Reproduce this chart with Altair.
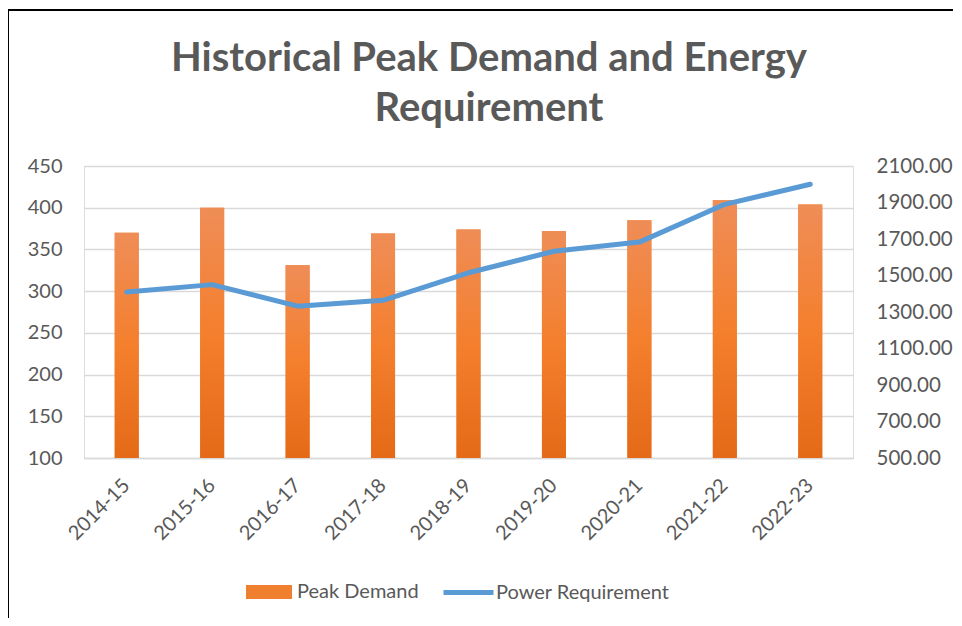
import altair as alt
import pandas as pd

years = ["2014-15", "2015-16", "2016-17", "2017-18", "2018-19", "2019-20", "2020-21", "2021-22", "2022-23"]
peak_demand = [370, 400, 331, 369, 374, 372, 385, 409, 404]
power_req = [1410, 1450, 1332, 1364, 1515, 1633, 1683, 1890, 2000]
left_ticks = [100, 150, 200, 250, 300, 350, 400, 450]
right_ticks = [500, 700, 900, 1100, 1300, 1500, 1700, 1900, 2100]
title_lines = ["Historical Peak Demand and Energy", "Requirement"]

df = pd.DataFrame({
    "Year": years,
    "Peak": peak_demand,
    "Power": power_req,
    "s1": ["Peak Demand"] * len(years),
    "s2": ["Power Requirement"] * len(years),
})

FONT = "Lato"
GREY = "#595959"
W, H = 769, 292

base = alt.Chart(df)

xenc = alt.X("Year:N", sort=years, title=None,
             scale=alt.Scale(paddingInner=0, paddingOuter=0),
             axis=alt.Axis(labelAngle=-45, labelAlign="right", labelBaseline="middle",
                           labelPadding=24, labelFontSize=20, labelColor=GREY, labelFont=FONT,
                           ticks=False, domainColor="#D9D9D9", domainWidth=1.5, grid=False))

yleft = alt.Y("Peak:Q", title=None,
              scale=alt.Scale(domain=[100, 450], zero=False, nice=False),
              axis=alt.Axis(values=left_ticks, grid=True, gridColor="#D9D9D9", gridWidth=1.5,
                            domain=False, ticks=False, labelPadding=22, labelFontSize=20,
                            labelColor=GREY, labelFont=FONT))

bar_legend = base.mark_bar(size=24).encode(
    x=xenc,
    y=yleft,
    y2=alt.datum(100),
    fill=alt.Fill("s1:N", title=None,
                  scale=alt.Scale(range=["#F07F2F"]),
                  legend=alt.Legend(orient="none", legendX=162, legendY=403, direction="horizontal",
                                    symbolType="M-1,-0.3L1,-0.3L1,0.3L-1,0.3Z", symbolSize=2116,
                                    symbolStrokeWidth=0, labelFontSize=20, labelColor=GREY,
                                    labelFont=FONT, labelOffset=5, padding=0, labelLimit=300)),
)

grad = alt.Gradient(gradient="linear", x1=0, x2=0, y1=0, y2=1,
                    stops=[alt.GradientStop(color="#EF8D57", offset=0),
                           alt.GradientStop(color="#F47F2D", offset=0.5),
                           alt.GradientStop(color="#E46A17", offset=1)])

bar_grad = base.mark_bar(size=24, color=grad).encode(
    x=xenc,
    y=yleft,
    y2=alt.datum(100),
)

bars = alt.layer(bar_legend, bar_grad)

line = base.mark_line(strokeWidth=5, strokeCap="round", strokeJoin="round").encode(
    x=xenc,
    y=alt.Y("Power:Q", title=None,
            scale=alt.Scale(domain=[500, 2100], zero=False, nice=False),
            axis=alt.Axis(orient="right", values=right_ticks, format=".2f", grid=False,
                          domain=False, ticks=False, labelPadding=23, labelFontSize=20.5,
                          labelColor=GREY, labelFont=FONT)),
    stroke=alt.Stroke("s2:N", title=None,
                      scale=alt.Scale(range=["#5B9BD5"]),
                      legend=alt.Legend(orient="none", legendX=357, legendY=399, direction="horizontal",
                                        symbolType="stroke", symbolSize=2500, symbolStrokeWidth=5,
                                        labelFontSize=20, labelColor=GREY, labelFont=FONT,
                                        labelOffset=0, padding=0, labelLimit=300)),
)

title1 = alt.Chart(pd.DataFrame({"t": [title_lines[0]]})).mark_text(
    font=FONT, fontSize=40, fontWeight="bold", color=GREY, align="center", baseline="middle"
).encode(text="t:N", x=alt.value(405), y=alt.value(-107))
title2 = alt.Chart(pd.DataFrame({"t": [title_lines[1]]})).mark_text(
    font=FONT, fontSize=40, fontWeight="bold", color=GREY, align="center", baseline="middle"
).encode(text="t:N", x=alt.value(405), y=alt.value(-57))

border_left = alt.Chart(pd.DataFrame({"a": [0]})).mark_rule(
    color="black", strokeWidth=2
).encode(x=alt.value(-76), y=alt.value(-157), y2=alt.value(2000))
border_top = alt.Chart(pd.DataFrame({"a": [0]})).mark_rule(
    color="black", strokeWidth=2
).encode(x=alt.value(-77), x2=alt.value(2000), y=alt.value(-156))

chart = alt.layer(bars, line, title1, title2, border_left, border_top).resolve_scale(
    y="independent"
).properties(
    width=W, height=H,
    autosize=alt.AutoSizeParams(type="none"),
    padding={"left": 76, "top": 158, "right": 100, "bottom": 160},
).configure_view(stroke=None).configure(background="white")

chart.save("out.html", embed_options={"renderer": "svg", "actions": False})
